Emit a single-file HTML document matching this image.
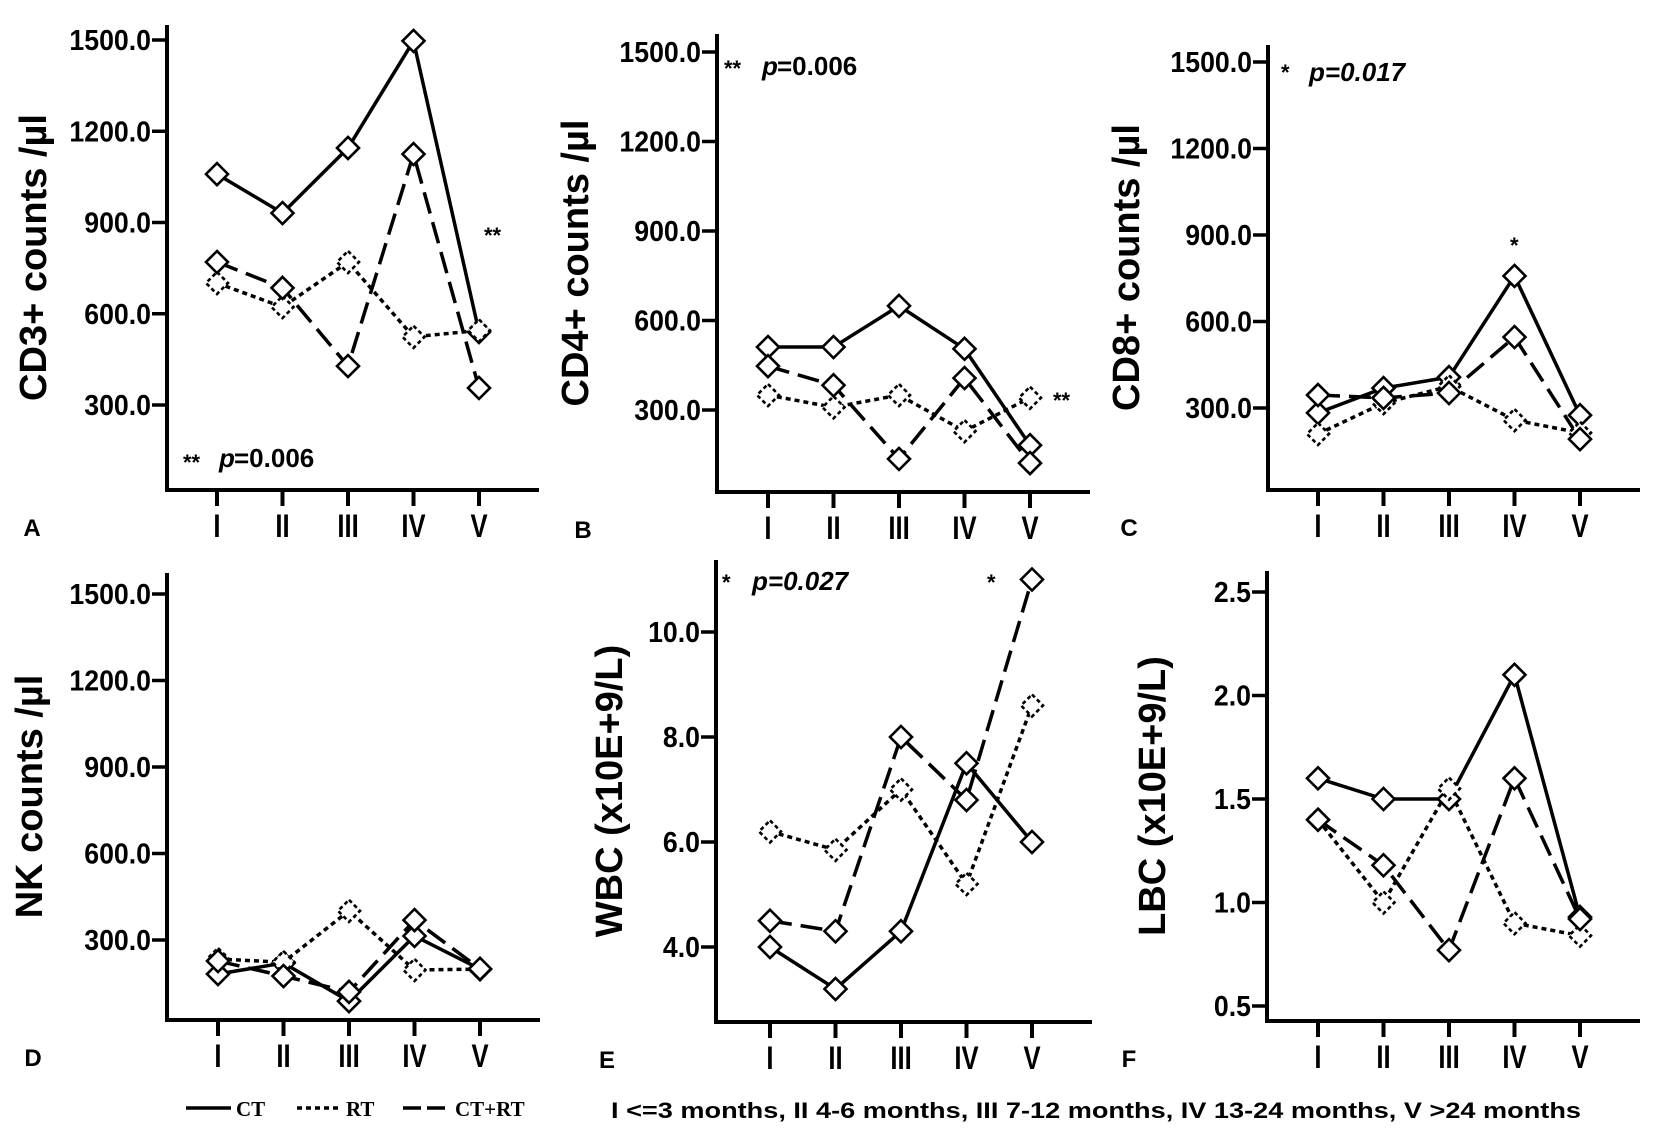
<!DOCTYPE html>
<html><head><meta charset="utf-8">
<style>
html,body{margin:0;padding:0;background:#fff;}
svg{display:block;font-family:"Liberation Sans",Arial,sans-serif;}
</style></head>
<body>
<svg id="fig" width="1654" height="1143" viewBox="0 0 1654 1143" xmlns="http://www.w3.org/2000/svg"></svg>
<script>
// ---- data ----
const categories = ["I","II","III","IV","V"];
const seriesNames = ["CT","RT","CT+RT"];
const cd3CT = [1059,931,1145,1497,540];
const cd3RT = [701,622,770,524,545];
const cd3CTRT = [770,685,428,1125,356];
const cd4CT = [511,511,649,505,182];
const cd4RT = [350,309,350,229,341];
const cd4CTRT = [447,383,136,407,122];
const cd8CT = [283,369,407,758,275];
const cd8RT = [210,317,375,258,214];
const cd8CTRT = [345,335,352,546,192];
const nkCT = [182,220,88,314,199];
const nkRT = [234,223,401,196,199];
const nkCTRT = [227,175,120,369,200];
const wbcCT = [4.0,3.2,4.3,7.5,6.0];
const wbcRT = [6.2,5.85,7.0,5.2,8.6];
const wbcCTRT = [4.5,4.3,8.0,6.8,11.0];
const lbcCT = [1.6,1.5,1.5,2.1,0.93];
const lbcRT = [1.4,1.0,1.55,0.9,0.84];
const lbcCTRT = [1.4,1.18,0.77,1.6,0.92];
const countTicks = [300,600,900,1200,1500];
const countTickLabels = ["300.0","600.0","900.0","1200.0","1500.0"];
const wbcTicks = [4,6,8,10];
const wbcTickLabels = ["4.0","6.0","8.0","10.0"];
const lbcTicks = [0.5,1.0,1.5,2.0,2.5];
const lbcTickLabels = ["0.5","1.0","1.5","2.0","2.5"];

const NS="http://www.w3.org/2000/svg";
const svg=document.getElementById('fig');
function mk(tag,attrs,parent){const e=document.createElementNS(NS,tag);for(const k in attrs)e.setAttribute(k,attrs[k]);(parent||svg).appendChild(e);return e;}
function txt(s,attrs,parent){const e=mk('text',attrs,parent);e.textContent=s;return e;}

const dashes=["none","5,4","22,9"];

function panel(p){
  const g=mk('g',{});
  
  
  const yS=v=>p.yA+(v-p.vA)*(p.yB-p.yA)/(p.vB-p.vA);
  const xS=i=>p.x0+i*65.5;
  const ax=mk('path',{d:`M${p.ax},${p.top} V${p.bot} H${xS(4)+60}`,fill:'none',stroke:'#000','stroke-width':4},g);
  
  
  p.ticks.forEach((t,i)=>{
    const y=yS(t);
    mk('line',{x1:p.ax-15,x2:p.ax,y1:y,y2:y,stroke:'#000','stroke-width':3.5},g);
    const tl=txt(p.tickLabels[i],{x:0,y:0,'text-anchor':'end','font-size':29,'font-weight':'bold',transform:`translate(${p.ax-16},${y+10}) scale(0.92,1)`},g);
    
    
  });
  categories.forEach((c,i)=>{
    const x=xS(i);
    mk('line',{x1:x,x2:x,y1:p.bot,y2:p.bot+16,stroke:'#000','stroke-width':4},g);
    const tl=txt(c,{x:0,y:0,'text-anchor':'middle','font-size':27,'font-weight':'bold',transform:`translate(${x},${p.bot+47}) scale(0.95,1.2)`},g);
    
    
  });
  const yt=txt(p.title,{x:0,y:0,'text-anchor':'middle','font-size':38,'font-weight':'bold',transform:`translate(${p.tx},${(p.top+p.bot)/2}) rotate(-90)`,'dominant-baseline':'central'},g);
  
  
  const pl=txt(p.letter,{x:p.lx,y:p.bot+46,'font-size':24,'font-weight':'bold','text-anchor':'middle'},g);
  
  
  p.series.forEach((vals,s)=>{
    const pts=vals.map((v,i)=>[xS(i),yS(v)]);
    const ln=mk('polyline',{points:pts.map(q=>q.join(',')).join(' '),fill:'none',stroke:'#000','stroke-width':3.5,'stroke-dasharray':dashes[s]},g);
    
    
  });
  p.series.forEach((vals,s)=>{
    vals.forEach((v,i)=>{
      const x=xS(i),y=yS(v),r=11;
      const m=mk('path',{d:`M${x},${y-r} L${x+r},${y} L${x},${y+r} L${x-r},${y} Z`,fill:'#fff',stroke:'#000','stroke-width':2.6,'stroke-dasharray':s===1?'4,3':'none'},g);
      
      
    });
  });
  (p.notes||[]).forEach(n=>{
    const t=txt(n.t,{x:n.x,y:n.y,'font-size':n.fs||26,'font-weight':'bold','font-style':n.it?'italic':'normal'},g);
    
    
  });
}

panel({key:'cd3',title:'CD3+ counts /µl',letter:'A',lx:32,tx:34,ax:167,top:25,bot:490,x0:217,vA:300,yA:405,vB:1500,yB:40,ticks:countTicks,tickLabels:countTickLabels,series:[cd3CT,cd3RT,cd3CTRT],
  notes:[{t:'**',x:183,y:470,fs:22},{t:'p',x:219,y:467,it:1},{t:'=0.006',x:234,y:467},{t:'**',x:484,y:243,fs:22}]});
panel({key:'cd4',title:'CD4+ counts /µl',letter:'B',lx:583,tx:576,ax:717,top:34,bot:492,x0:768,vA:300,yA:410,vB:1500,yB:52,ticks:countTicks,tickLabels:countTickLabels,series:[cd4CT,cd4RT,cd4CTRT],
  notes:[{t:'**',x:724,y:76,fs:22},{t:'p',x:762,y:75,it:1},{t:'=0.006',x:777,y:75},{t:'**',x:1053,y:408,fs:22}]});
panel({key:'cd8',title:'CD8+ counts /µl',letter:'C',lx:1129,tx:1127,ax:1268,top:45,bot:490,x0:1318,vA:300,yA:408,vB:1500,yB:62,ticks:countTicks,tickLabels:countTickLabels,series:[cd8CT,cd8RT,cd8CTRT],
  notes:[{t:'*',x:1281,y:80,fs:22},{t:'p=0.017',x:1309,y:81,it:1},{t:'*',x:1510,y:253,fs:22}]});
panel({key:'nk',title:'NK counts /µl',letter:'D',lx:33,tx:30,ax:167,top:573,bot:1020,x0:218,vA:300,yA:940,vB:1500,yB:594,ticks:countTicks,tickLabels:countTickLabels,series:[nkCT,nkRT,nkCTRT]});
panel({key:'wbc',title:'WBC (x10E+9/L)',letter:'E',lx:607,tx:610,ax:716,top:560,bot:1022,x0:770,vA:4,yA:947,vB:10,yB:632,ticks:wbcTicks,tickLabels:wbcTickLabels,series:[wbcCT,wbcRT,wbcCTRT],
  notes:[{t:'*',x:722,y:590,fs:22},{t:'p=0.027',x:752,y:590,it:1},{t:'*',x:987,y:590,fs:22}]});
panel({key:'lbc',title:'LBC (x10E+9/L)',letter:'F',lx:1129,tx:1153,ax:1267,top:571,bot:1021,x0:1318,vA:0.5,yA:1006,vB:2.5,yB:592,ticks:lbcTicks,tickLabels:lbcTickLabels,series:[lbcCT,lbcRT,lbcCTRT]});

const lg=mk('g',{});


const legX=[186,297,403];
const legT=[236,346,455];
seriesNames.forEach((n,s)=>{
  const l=mk('line',{x1:legX[s],x2:legX[s]+45,y1:1108,y2:1108,stroke:'#000','stroke-width':3.5,'stroke-dasharray':s===0?'none':(s===1?'5,4':'18,6')},lg);
  
  
  const t=txt(n,{x:legT[s],y:1116,'font-size':21,'font-weight':'bold','font-family':'"Liberation Serif",serif'},lg);
  
  
});
const cap=txt('I  <=3 months, II 4-6 months, III 7-12 months, IV 13-24 months, V >24 months',{x:611,y:1118,'font-size':22,'font-weight':'bold',textLength:970,lengthAdjust:'spacingAndGlyphs'});


</script>
</body></html>
